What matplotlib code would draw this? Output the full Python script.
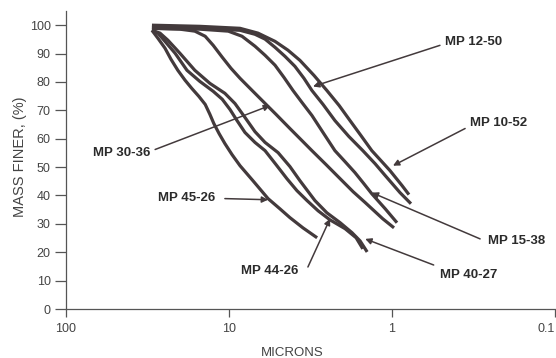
import matplotlib
matplotlib.use("Agg")
import matplotlib.pyplot as plt

plt.rcParams["font.family"] = ["Liberation Sans", "DejaVu Sans"]

INK = "#433a3c"
TEXT = "#2b2b2b"

# particle size (microns) / mass finer (%)
mp_10_52_x = [29.7, 15.1, 8.56, 6.64, 5.22, 4.35, 3.67, 3.01, 2.51, 2.11, 1.81, 1.55,
              1.33, 1.17, 1.03, 0.868, 0.787]
mp_10_52_y = [100.0, 99.6, 98.9, 97.2, 94.3, 91.2, 87.6, 82.3, 77.0, 71.7, 66.4, 61.1,
              55.8, 52.3, 48.8, 43.5, 40.3]

mp_12_50_x = [29.7, 15.1, 8.56, 6.93, 6.01, 5.22, 4.53, 3.94, 3.47, 3.10, 2.65, 2.24,
              1.84, 1.51, 1.27, 1.10, 0.893, 0.765]
mp_12_50_y = [99.3, 98.9, 98.2, 96.8, 95.1, 92.2, 89.0, 85.5, 81.3, 77.0, 72.1, 66.4,
              60.8, 55.8, 51.2, 47.0, 41.0, 37.1]

mp_15_38_x = [29.7, 15.1, 10.1, 8.32, 6.93, 6.01, 5.22, 4.60, 4.05, 3.57, 3.10, 2.65,
              2.24, 1.94, 1.69, 1.49, 1.33, 1.10, 0.932]
mp_15_38_y = [98.9, 98.6, 97.9, 96.1, 92.6, 89.4, 85.9, 81.6, 77.0, 72.8, 68.2, 62.2,
              55.8, 51.9, 48.1, 44.2, 40.6, 35.3, 30.4]

mp_30_36_x = [29.7, 20.0, 16.2, 14.0, 12.5, 11.0, 9.72, 8.56, 7.33, 6.27, 5.15, 4.23,
              3.62, 3.10, 2.54, 2.08, 1.73, 1.46, 1.14, 0.972]
mp_30_36_y = [98.9, 98.6, 97.9, 96.1, 92.9, 88.7, 84.8, 81.3, 77.4, 73.5, 68.6, 63.6,
              59.7, 55.8, 50.9, 45.9, 41.3, 37.5, 31.8, 28.6]

mp_40_27_x = [29.7, 26.5, 23.7, 20.0, 16.2, 13.1, 10.6, 9.19, 7.98, 6.93, 6.01, 5.00,
              4.23, 3.67, 2.97, 2.51, 2.08, 1.76, 1.57, 1.42]
mp_40_27_y = [98.2, 97.2, 94.7, 90.1, 84.1, 79.5, 76.0, 72.4, 67.5, 62.5, 58.7, 55.1,
              50.2, 45.2, 38.2, 33.9, 30.4, 26.9, 24.0, 20.1]

mp_44_26_x = [29.7, 27.3, 24.7, 21.4, 18.1, 15.1, 12.5, 11.0, 9.86, 8.93, 7.98, 6.93,
              6.01, 5.15, 4.41, 3.83, 3.32, 2.84, 2.40, 1.94, 1.66, 1.51]
mp_44_26_y = [98.2, 97.2, 94.3, 90.1, 84.1, 80.2, 76.7, 73.9, 70.3, 66.4, 62.2, 58.7,
              55.8, 50.9, 45.9, 41.7, 38.2, 34.6, 31.4, 28.3, 25.1, 21.2]

mp_45_26_x = [29.7, 27.3, 24.7, 22.7, 20.6, 18.6, 16.9, 15.3, 14.0, 13.1, 12.4, 11.5,
              10.6, 9.58, 8.56, 7.13, 5.76, 4.87, 4.23, 3.52, 2.88]
mp_45_26_y = [98.2, 95.4, 91.9, 88.0, 84.1, 80.6, 77.7, 74.9, 72.1, 68.6, 65.4, 61.8,
              58.3, 54.4, 50.5, 45.2, 38.9, 35.3, 32.2, 28.6, 25.1]

curves = [
    (mp_10_52_x, mp_10_52_y),
    (mp_12_50_x, mp_12_50_y),
    (mp_15_38_x, mp_15_38_y),
    (mp_30_36_x, mp_30_36_y),
    (mp_40_27_x, mp_40_27_y),
    (mp_44_26_x, mp_44_26_y),
    (mp_45_26_x, mp_45_26_y),
]

# label text, arrow tip (x, y), text anchor (x, y), horizontal alignment
labels = [
    ("MP 12-50", (3.05, 78.4), (0.47, 94.0), "left"),
    ("MP 10-52", (0.986, 50.5), (0.332, 65.4), "left"),
    ("MP 30-36", (5.60, 71.7), (30.5, 55.1), "right"),
    ("MP 45-26", (5.76, 38.5), (12.2, 39.2), "right"),
    ("MP 44-26", (2.40, 31.8), (3.75, 13.4), "right"),
    ("MP 15-38", (1.33, 41.0), (0.258, 24.0), "left"),
    ("MP 40-27", (1.46, 24.7), (0.508, 12.0), "left"),
]
tails = [
    (0.508, 92.9),
    (0.356, 63.6),
    (28.4, 56.2),
    (10.6, 38.9),
    (3.28, 14.8),
    (0.288, 24.7),
    (0.555, 15.5),
]

x_ticks = [100, 10, 1, 0.1]
x_tick_labels = ["100", "10", "1", "0.1"]
y_ticks = list(range(0, 101, 10))

fig = plt.figure(figsize=(5.56, 3.58), dpi=100)
ax = fig.add_axes([66 / 556, 1 - 309 / 358, (555 - 66) / 556, 298 / 358])

for xs, ys in curves:
    ax.plot(xs, ys, color=INK, lw=2.3, solid_capstyle="butt", solid_joinstyle="round")

for (text, tip, pos, ha), tail in zip(labels, tails):
    ax.annotate("", xy=tip, xytext=tail,
                arrowprops=dict(arrowstyle="-|>", color=INK, lw=1.1,
                                mutation_scale=9, shrinkA=0, shrinkB=0))
    ax.text(pos[0], pos[1], text, ha=ha, va="center", fontsize=9.5,
            fontweight="bold", color=TEXT)

ax.set_xscale("log")
ax.set_xlim(100, 0.1)
ax.set_ylim(0, 105)
ax.set_xticks(x_ticks)
tick_texts = ax.set_xticklabels(x_tick_labels)
tick_texts[-1].set_horizontalalignment("right")  # keep "0.1" inside the frame
ax.minorticks_off()
ax.set_yticks(y_ticks)

for side in ("top", "right"):
    ax.spines[side].set_visible(False)
for side in ("left", "bottom"):
    ax.spines[side].set_color("#555555")
    ax.spines[side].set_linewidth(0.9)

ax.tick_params(axis="y", length=8, width=0.9, color="#555555", labelsize=9,
               labelcolor="#444444", pad=3)
ax.tick_params(axis="x", length=6, width=0.9, color="#555555", labelsize=9,
               labelcolor="#444444", pad=4)

fig.text(20 / 556, 1 - 157 / 358, "MASS FINER, (%)", rotation=90, ha="center",
         va="center", fontsize=10.5, color="#444444")
fig.text(292 / 556, 1 - 347 / 358, "MICRONS", ha="center", va="top",
         fontsize=9.5, color="#444444")

fig.savefig("out.png", dpi=100)
